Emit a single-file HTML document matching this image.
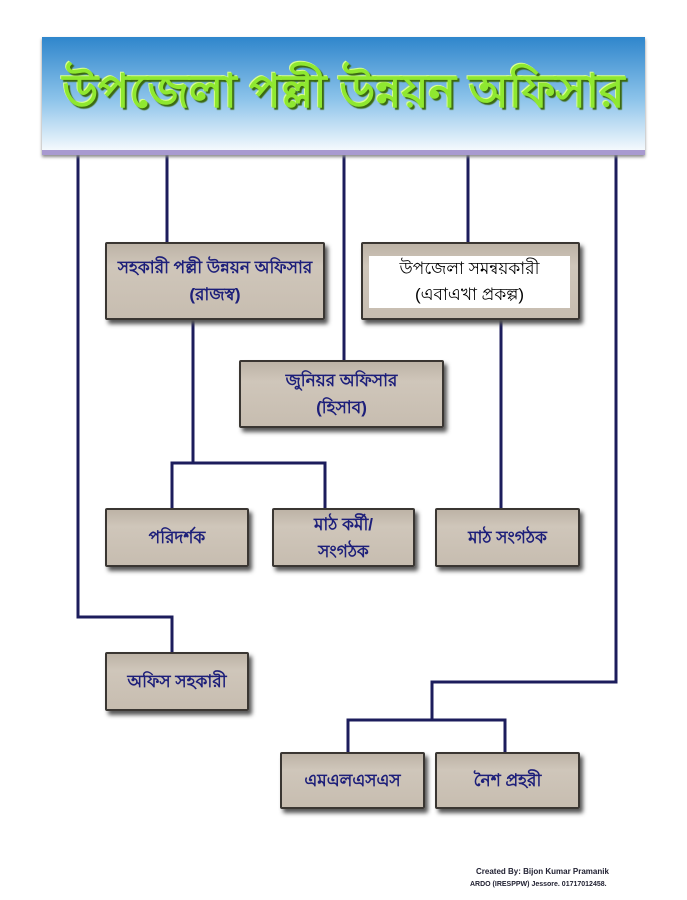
<!DOCTYPE html>
<html><head><meta charset="utf-8"><style>
body{margin:0;width:687px;height:900px;background:#fff;position:relative;overflow:hidden;font-family:"Liberation Sans",sans-serif}
.hdr{position:absolute;left:42px;top:37px;width:603px;height:113px;background:linear-gradient(#2f86cc,#8cc3ea 55%,#f4f9fd);border-bottom:5px solid #a89ad0;box-shadow:0 2px 3px #888}
.hdr div{text-align:center;font-size:46px;font-weight:bold;color:#8fe830;line-height:108px;white-space:nowrap;text-shadow:2px 2px 1px #3b6a10,-1px -1px 0 #d8ff90}
.b{position:absolute;background:linear-gradient(#bdb3a6,#cfc6ba 30%,#c7bdb0);border:2px solid #3a3632;border-radius:2px;box-shadow:3px 4px 4px #555;box-sizing:border-box;display:flex;align-items:center;justify-content:center;text-align:center;color:#1d1f7a;font-size:17px;font-weight:bold;line-height:27px;white-space:nowrap}
.w{position:absolute;left:369px;top:256px;width:201px;height:52px;background:#fff;text-align:center;font-size:17px;line-height:26px;color:#000;white-space:nowrap}
.f{position:absolute;left:476px;top:866px;font-size:8px;font-weight:bold;color:#223;line-height:12px}
</style></head><body>
<svg width="687" height="900" style="position:absolute;left:0;top:0" fill="none" stroke="#1c1d5c" stroke-width="3">
<polyline points="78,155 78,617 172,617 172,652"/>
<line x1="167" y1="155" x2="167" y2="242"/>
<line x1="344" y1="155" x2="344" y2="360"/>
<line x1="468" y1="155" x2="468" y2="242"/>
<polyline points="616,155 616,682 432,682 432,720"/>
<polyline points="348,752 348,720 505,720 505,752"/>
<line x1="193" y1="320" x2="193" y2="463"/>
<polyline points="172,508 172,463 325,463 325,508"/>
<line x1="501" y1="320" x2="501" y2="508"/>
</svg>
<div class="hdr"><div>উপজেলা পল্লী উন্নয়ন অফিসার</div></div>
<div class="b" style="left:105px;top:242px;width:220px;height:78px">সহকারী পল্লী উন্নয়ন অফিসার<br>(রাজস্ব)</div>
<div class="b" style="left:361px;top:242px;width:219px;height:78px"></div>
<div class="w">উপজেলা সমন্বয়কারী<br>(এবাএখা প্রকল্প)</div>
<div class="b" style="left:239px;top:360px;width:205px;height:68px">জুনিয়র অফিসার<br>(হিসাব)</div>
<div class="b" style="left:105px;top:508px;width:144px;height:59px">পরিদর্শক</div>
<div class="b" style="left:272px;top:508px;width:143px;height:59px">মাঠ কর্মী/<br>সংগঠক</div>
<div class="b" style="left:435px;top:508px;width:145px;height:59px">মাঠ সংগঠক</div>
<div class="b" style="left:105px;top:652px;width:144px;height:59px">অফিস সহকারী</div>
<div class="b" style="left:280px;top:752px;width:145px;height:57px">এমএলএসএস</div>
<div class="b" style="left:435px;top:752px;width:145px;height:57px">নৈশ প্রহরী</div>
<div class="f">Created By: Bijon Kumar Pramanik<br><span style="font-size:7px;margin-left:-6px">ARDO (IRESPPW) Jessore. 01717012458.</span></div>
</body></html>
